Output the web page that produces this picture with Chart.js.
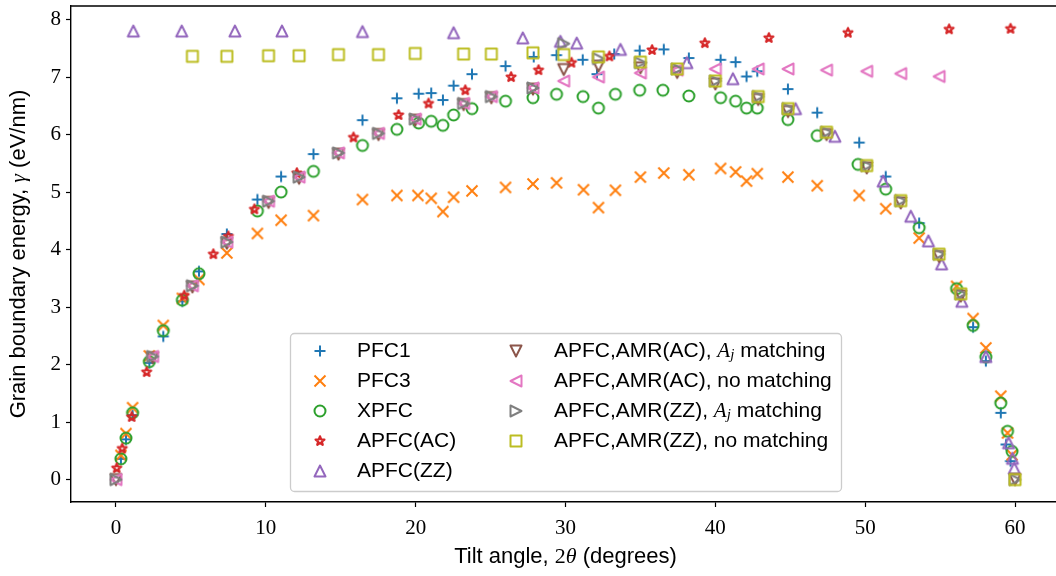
<!DOCTYPE html>
<html>
<head>
<meta charset="utf-8">
<script src="https://cdn.jsdelivr.net/npm/chart.js@4.4.1/dist/chart.umd.min.js"></script>
<style>
  html, body { margin: 0; padding: 0; background: #fff; overflow: hidden; }
  #wrap { width: 1056px; height: 576px; overflow: hidden; position: relative; }
  canvas { display: block; }
</style>
</head>
<body>
<div id="wrap"><canvas id="chart" width="1060" height="576" style="width:1060px;height:576px"></canvas></div>
<script>
// tilt angle (degrees) and grain boundary energy (eV/nm)
const pfc1X = [0.33, 0.67, 1.11, 2.23, 3.16, 4.43, 5.54, 7.4, 9.44, 11.02, 13.18, 16.45, 18.75, 20.2, 21.04, 21.82, 22.53, 23.76, 26.0, 27.88, 29.4, 31.15, 32.1, 33.25, 34.95, 36.56, 38.23, 40.35, 41.35, 42.08, 42.8, 44.84, 46.8, 49.6, 51.37, 53.6, 57.2, 58.05, 59.05, 59.4, 59.7];
const pfc1Y = [0.36, 0.70, 1.12, 2.03, 2.49, 3.1, 3.62, 4.27, 4.87, 5.27, 5.66, 6.25, 6.63, 6.71, 6.72, 6.6, 6.85, 7.05, 7.19, 7.35, 7.38, 7.3, 7.05, 7.4, 7.46, 7.48, 7.33, 7.3, 7.26, 7.01, 7.1, 6.79, 6.38, 5.86, 5.27, 4.46, 2.65, 2.06, 1.16, 0.61, 0.32];

const pfc3X = [0.33, 0.67, 1.11, 2.23, 3.16, 4.43, 5.54, 7.4, 9.44, 11.02, 13.18, 16.45, 18.75, 20.15, 21.04, 21.82, 22.53, 23.76, 26.0, 27.83, 29.4, 31.2, 32.2, 33.33, 35.0, 36.56, 38.23, 40.35, 41.35, 42.08, 42.8, 44.84, 46.8, 49.6, 51.37, 53.6, 56.1, 57.2, 58.05, 59.05, 59.5, 59.8];
const pfc3Y = [0.42, 0.8, 1.25, 2.15, 2.68, 3.15, 3.48, 3.94, 4.28, 4.51, 4.59, 4.87, 4.94, 4.94, 4.89, 4.66, 4.91, 5.02, 5.08, 5.14, 5.16, 5.04, 4.73, 5.03, 5.26, 5.33, 5.30, 5.41, 5.35, 5.19, 5.32, 5.26, 5.11, 4.94, 4.71, 4.20, 3.36, 2.8, 2.29, 1.45, 0.81, 0.43];

const xpfcX = [0.33, 0.67, 1.11, 2.23, 3.16, 4.43, 5.54, 9.44, 11.02, 13.18, 16.45, 18.75, 20.2, 21.04, 21.82, 22.53, 23.76, 26.0, 27.83, 29.4, 31.17, 32.2, 33.33, 34.95, 36.5, 38.23, 40.35, 41.35, 42.08, 42.8, 44.84, 46.8, 49.52, 51.37, 53.6, 56.1, 57.2, 58.05, 59.05, 59.5, 59.8];
const xpfcY = [0.36, 0.72, 1.16, 2.05, 2.59, 3.12, 3.58, 4.67, 5.0, 5.36, 5.81, 6.09, 6.2, 6.23, 6.16, 6.34, 6.45, 6.58, 6.64, 6.7, 6.66, 6.46, 6.7, 6.77, 6.77, 6.67, 6.64, 6.58, 6.46, 6.46, 6.26, 5.98, 5.48, 5.05, 4.38, 3.32, 2.68, 2.13, 1.33, 0.84, 0.49];

const apfcAcX = [0.05, 0.42, 1.05, 2.05, 4.56, 6.5, 7.5, 9.24, 12.07, 15.85, 18.86, 20.86, 23.31, 26.37, 28.2, 30.4, 32.93, 35.78, 39.3, 43.57, 48.85, 55.6, 59.7];
const apfcAcY = [0.2, 0.54, 1.09, 1.87, 3.2, 3.92, 4.23, 4.70, 5.33, 5.95, 6.34, 6.54, 6.77, 7.0, 7.12, 7.25, 7.36, 7.47, 7.59, 7.68, 7.77, 7.83, 7.84];

const apfcZzX = [1.16, 4.39, 7.94, 11.08, 16.45, 22.53, 27.15, 29.66, 30.75, 33.67, 38.1, 41.17, 45.35, 47.98, 51.2, 53.04, 54.22, 55.1, 56.45, 58.05, 59.57, 59.83, 59.95];
const apfcZzY = [7.80, 7.80, 7.80, 7.80, 7.79, 7.77, 7.68, 7.62, 7.59, 7.48, 7.25, 6.97, 6.45, 5.97, 5.19, 4.58, 4.15, 3.75, 3.1, 2.14, 0.64, 0.37, 0.2];

const amrX = [0, 2.45, 5.1, 7.4, 10.18, 12.22, 14.85, 17.52, 19.97, 23.2, 25.05, 27.83, 29.88, 32.2, 35.0, 37.45, 40.0, 42.86, 44.85, 47.42, 50.1, 52.37, 54.93, 56.38, 60];
const amrAcMatchY = [0, 2.12, 3.35, 4.11, 4.82, 5.24, 5.66, 6.0, 6.25, 6.52, 6.64, 6.79, 7.13, 7.19, 7.16, 7.08, 6.88, 6.61, 6.40, 6.0, 5.42, 4.81, 3.88, 3.19, 0];
const amrZzMatchY = [0, 2.14, 3.37, 4.13, 4.84, 5.26, 5.68, 6.02, 6.27, 6.54, 6.66, 6.81, 7.58, 7.32, 7.25, 7.14, 6.93, 6.66, 6.45, 6.04, 5.46, 4.85, 3.92, 3.23, 0];

const amrAcNoMatchX = [0, 2.45, 5.1, 7.4, 10.18, 12.22, 14.85, 17.52, 19.97, 23.2, 25.05, 27.83, 29.88, 32.2, 35.0, 37.45, 40.0, 42.86, 44.85, 47.42, 50.1, 52.37, 54.93];
const amrAcNoMatchY = [0, 2.14, 3.37, 4.13, 4.84, 5.26, 5.68, 6.02, 6.27, 6.54, 6.66, 6.81, 6.93, 7.0, 7.07, 7.12, 7.14, 7.14, 7.14, 7.12, 7.1, 7.06, 7.01];

const amrZzNoMatchX = [5.1, 7.4, 10.18, 12.22, 14.85, 17.52, 19.97, 23.2, 25.05, 27.83, 29.88, 32.2, 35.0, 37.45, 40.0, 42.86, 44.85, 47.42, 50.1, 52.37, 54.93, 56.38, 60];
const amrZzNoMatchY = [7.36, 7.36, 7.37, 7.37, 7.39, 7.39, 7.41, 7.4, 7.4, 7.42, 7.39, 7.35, 7.26, 7.14, 6.93, 6.66, 6.45, 6.04, 5.46, 4.85, 3.92, 3.23, 0];

const xTicks = [0, 10, 20, 30, 40, 50, 60];
const yTicks = [0, 1, 2, 3, 4, 5, 6, 7, 8];

const SANS = "'Liberation Sans', Arial, sans-serif";
const SERIF = "'Liberation Serif', 'DejaVu Serif', serif";

function makeMarker(shape, color) {

  const c = document.createElement("canvas");
  c.width = 20;
  c.height = 20;
  const g = c.getContext("2d");
  const h = shape === "star" ? 4.6 : 5.5;
  g.strokeStyle = color;
  g.lineWidth = shape === "star" ? 2.3 : 2;
  g.lineJoin = "round";
  g.translate(10, 10);
  g.beginPath();
  switch (shape) {
    case "plus":
      g.moveTo(-h, 0); g.lineTo(h, 0); g.moveTo(0, -h); g.lineTo(0, h);
      break;
    case "x":
      g.moveTo(-h, -h); g.lineTo(h, h); g.moveTo(-h, h); g.lineTo(h, -h);
      break;
    case "circle":
      g.arc(0, 0, h, 0, 2 * Math.PI);
      break;
    case "star":
      for (let i = 0; i < 10; i++) {
        const r = i % 2 === 0 ? h : h * 0.42;
        const a = -Math.PI / 2 + i * Math.PI / 5;
        g.lineTo(r * Math.cos(a), r * Math.sin(a));
      }
      g.closePath();
      break;
    case "up":
      g.moveTo(0, -h); g.lineTo(-h, h); g.lineTo(h, h); g.closePath();
      break;
    case "down":
      g.moveTo(0, h); g.lineTo(-h, -h); g.lineTo(h, -h); g.closePath();
      break;
    case "left":
      g.moveTo(-h, 0); g.lineTo(h, -h); g.lineTo(h, h); g.closePath();
      break;
    case "right":
      g.moveTo(h, 0); g.lineTo(-h, -h); g.lineTo(-h, h); g.closePath();
      break;
    case "square":
      g.rect(-h, -h, 2 * h, 2 * h);
      break;
  }
  g.stroke();
  return c;
}

// label parts: [text, font, baseline shift]
const mathSub = [["A", "italic 21px " + SERIF, 0], ["j", "italic 15px " + SERIF, 4]];
const series = [
  { x: pfc1X, y: pfc1Y, color: "#1f77b4", shape: "plus", label: [["PFC1"]] },
  { x: pfc3X, y: pfc3Y, color: "#ff7f0e", shape: "x", label: [["PFC3"]] },
  { x: xpfcX, y: xpfcY, color: "#2ca02c", shape: "circle", label: [["XPFC"]] },
  { x: apfcAcX, y: apfcAcY, color: "#d62728", shape: "star", label: [["APFC(AC)"]] },
  { x: apfcZzX, y: apfcZzY, color: "#9467bd", shape: "up", label: [["APFC(ZZ)"]] },
  { x: amrX, y: amrAcMatchY, color: "#8c564b", shape: "down", label: [["APFC,AMR(AC), "], ...mathSub, [" matching"]] },
  { x: amrAcNoMatchX, y: amrAcNoMatchY, color: "#e377c2", shape: "left", label: [["APFC,AMR(AC), no matching"]] },
  { x: amrX, y: amrZzMatchY, color: "#7f7f7f", shape: "right", label: [["APFC,AMR(ZZ), "], ...mathSub, [" matching"]] },
  { x: amrZzNoMatchX, y: amrZzNoMatchY, color: "#bcbd22", shape: "square", label: [["APFC,AMR(ZZ), no matching"]] },
];
series.forEach(s => { s.marker = makeMarker(s.shape, s.color); });

function drawParts(ctx, parts, x, y, align, base) {

  const widths = parts.map(p => { ctx.font = p[1] || base; return ctx.measureText(p[0]).width; });
  const total = widths.reduce((a, b) => a + b, 0);
  let cx = align === "center" ? x - total / 2 : x;
  parts.forEach((p, i) => {
    ctx.font = p[1] || base;
    ctx.fillText(p[0], cx, y + (p[2] || 0));
    cx += widths[i];
  });
}

const decorPlugin = {
  id: "decor",
  afterDraw: chart => {

    const ctx = chart.ctx;
    const area = chart.chartArea;
    ctx.save();

    // top and right spines
    ctx.strokeStyle = "#000";
    ctx.lineWidth = 1.4;
    ctx.beginPath();
    ctx.moveTo(area.left, area.top);
    ctx.lineTo(area.right, area.top);
    ctx.lineTo(area.right, area.bottom);
    ctx.stroke();

    ctx.fillStyle = "#000";
    ctx.textAlign = "left";
    ctx.textBaseline = "middle";

    // axis titles
    const titleFont = "22px " + SANS;
    drawParts(ctx, [["Tilt angle, "], ["2", "22px " + SERIF], ["θ", "italic 22px " + SERIF], [" (degrees)"]],
      (area.left + area.right) / 2, 557, "center", titleFont);
    ctx.save();
    ctx.translate(19, (area.top + area.bottom) / 2);
    ctx.rotate(-Math.PI / 2);
    drawParts(ctx, [["Grain boundary energy, "], ["γ", "italic 22px " + SERIF], [" (eV/nm)"]], 0, 0, "center", titleFont);
    ctx.restore();

    // legend
    ctx.beginPath();
    ctx.roundRect(290.5, 333.5, 551, 158, 4);
    ctx.fillStyle = "rgba(255, 255, 255, 0.8)";
    ctx.fill();
    ctx.strokeStyle = "#cccccc";
    ctx.lineWidth = 1.3;
    ctx.stroke();

    const rowsLeft = [351, 381, 411, 441, 471];
    const rowsRight = [351, 381, 411, 441];
    ctx.fillStyle = "#000";
    series.forEach((s, i) => {
      const left = i < 5;
      const y = left ? rowsLeft[i] : rowsRight[i - 5];
      const mx = left ? 320 : 516;
      const tx = left ? 357 : 554;
      ctx.drawImage(s.marker, mx - 10, y - 10);
      drawParts(ctx, s.label, tx, y, "left", "21px " + SANS);
    });

    ctx.restore();
  },
};

function noPadding(scale) {

  scale.paddingTop = 0;
  scale.paddingBottom = 0;
  scale.paddingLeft = 0;
  scale.paddingRight = 0;
}

new Chart(document.getElementById("chart"), {
  type: "scatter",
  data: {
    datasets: series.map((s, i) => ({
      label: s.label.map(p => p[0]).join(""),
      data: s.x.map((x, k) => ({ x, y: s.y[k] })),
      pointStyle: s.marker,
      pointRadius: 5,
      borderColor: s.color,
      backgroundColor: "transparent",
      order: series.length - i,
    })),
  },
  options: {
    responsive: false,
    animation: false,
    events: [],
    layout: { autoPadding: false, padding: { top: 6, left: 0, right: 0, bottom: 0 } },
    plugins: { legend: { display: false }, tooltip: { enabled: false } },
    scales: {
      x: {
        type: "linear",
        min: -3,
        max: 63,
        afterBuildTicks: scale => { scale.ticks = xTicks.map(v => ({ value: v })); },
        afterFit: scale => { scale.height = 74; noPadding(scale); },
        grid: { drawOnChartArea: false, drawTicks: true, tickLength: 5, tickWidth: 1.2, tickColor: "#000" },
        border: { display: true, color: "#000", width: 1.4 },
        ticks: { color: "#000", font: { family: SERIF, size: 21 }, padding: 9, maxRotation: 0 },
      },
      y: {
        type: "linear",
        min: -0.39,
        max: 8.235,
        afterBuildTicks: scale => { scale.ticks = yTicks.map(v => ({ value: v })); },
        afterFit: scale => { scale.width = 71; noPadding(scale); },
        grid: { drawOnChartArea: false, drawTicks: true, tickLength: 5, tickWidth: 1.2, tickColor: "#000" },
        border: { display: true, color: "#000", width: 1.4 },
        ticks: { color: "#000", font: { family: SERIF, size: 21 }, padding: 5 },
      },
    },
  },
  plugins: [decorPlugin],
});
</script>
</body>
</html>
